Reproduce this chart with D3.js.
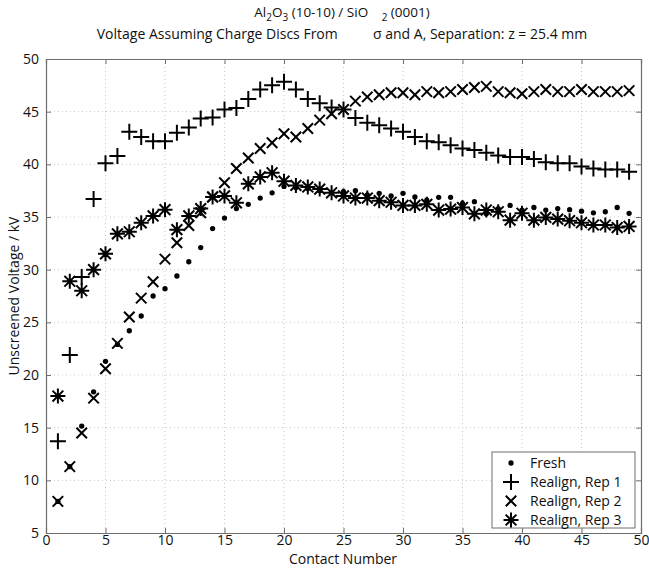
<!DOCTYPE html>
<html><head><meta charset="utf-8">
<script src="https://cdn.jsdelivr.net/npm/d3@7"></script>
<style>body{margin:0;background:#fff}svg{display:block;font-family:"Open Sans","Liberation Sans",sans-serif}</style>
</head><body><svg id="c" width="649" height="569"></svg>
<script>
const contacts = d3.range(1, 50);
const fresh = [8.0,11.3,15.15,18.4,21.3,22.9,24.2,25.6,27.5,28.2,29.4,30.75,32.1,33.9,34.9,35.8,36.2,36.8,37.3,37.9,37.8,37.7,37.5,37.3,37.4,37.5,37.1,37.25,37.0,37.25,36.9,36.6,36.87,36.87,36.3,36.45,35.3,35.8,36.1,35.66,35.9,35.66,35.8,35.7,35.55,35.4,35.5,35.9,35.35];
const rep1 = [13.7,21.9,29.3,36.7,40.1,40.8,43.1,42.6,42.2,42.2,43.0,43.5,44.35,44.45,45.2,45.35,46.2,47.1,47.5,47.85,47.1,46.2,45.8,45.4,45.2,44.4,43.95,43.7,43.4,43.1,42.6,42.2,42.1,41.8,41.5,41.35,41.1,40.85,40.7,40.7,40.5,40.2,40.1,40.1,39.8,39.6,39.5,39.5,39.3];
const rep2 = [8.0,11.3,14.5,17.8,20.6,23.0,25.5,27.3,28.85,31.0,32.55,34.2,35.4,36.9,38.25,39.6,40.6,41.5,42.05,42.9,42.6,43.4,44.2,44.8,45.2,46.0,46.4,46.6,46.8,46.8,46.6,46.9,46.8,46.9,47.1,47.3,47.4,46.9,46.8,46.7,46.9,47.1,46.9,46.9,47.1,46.9,46.9,46.9,47.0];
const rep3 = [18.0,28.9,28.0,30.0,31.5,33.4,33.6,34.45,35.1,35.7,33.8,35.1,35.8,36.9,37.0,36.35,38.15,38.8,39.2,38.4,38.0,37.85,37.65,37.3,37.0,36.8,36.8,36.55,36.4,36.1,36.1,36.2,35.66,35.75,35.9,35.3,35.66,35.5,34.7,35.35,34.7,34.96,34.8,34.65,34.46,34.24,34.24,34.0,34.1];
const seriesNames = ["Fresh","Realign, Rep 1","Realign, Rep 2","Realign, Rep 3"];
const xTicks = [0,5,10,15,20,25,30,35,40,45,50];
const yTicks = [5,10,15,20,25,30,35,40,45,50];

const svg = d3.select("#c");
const L=46, R=641, T=59, B=533;
const x = d3.scaleLinear().domain([0,50]).range([L,R]);
const y = d3.scaleLinear().domain([5,50]).range([B,T]);
const axisCol = "#6e6e6e";

// grid
const g = svg.append("g");
g.selectAll(".gx").data(xTicks.slice(1,-1)).join("line")
  .attr("x1",d=>x(d)).attr("x2",d=>x(d)).attr("y1",T).attr("y2",B)
  .attr("stroke","#c8c8c8").attr("stroke-width",1).attr("stroke-dasharray","1,3");
g.selectAll(".gy").data(yTicks.slice(1,-1)).join("line")
  .attr("y1",d=>y(d)).attr("y2",d=>y(d)).attr("x1",L).attr("x2",R)
  .attr("stroke","#c8c8c8").attr("stroke-width",1).attr("stroke-dasharray","1,3");

// axes with inward ticks
const ax = svg.append("g").attr("transform",`translate(0,${B})`)
  .call(d3.axisBottom(x).tickValues(xTicks).tickSize(-5).tickPadding(2));
const axTop = svg.append("g").attr("transform",`translate(0,${T})`)
  .call(d3.axisTop(x).tickValues(xTicks).tickSize(-5).tickFormat(""));
const ay = svg.append("g").attr("transform",`translate(${L},0)`)
  .call(d3.axisLeft(y).tickValues(yTicks).tickSize(-5).tickPadding(7));
const ayR = svg.append("g").attr("transform",`translate(${R},0)`)
  .call(d3.axisRight(y).tickValues(yTicks).tickSize(-5).tickFormat(""));
[ax,axTop,ay,ayR].forEach(a=>{
  a.select(".domain").attr("stroke",axisCol).attr("stroke-width",1.2);
  a.selectAll(".tick line").attr("stroke",axisCol);
  a.selectAll("text").attr("fill","#111").attr("font-size",14).attr("font-family","'Open Sans','Liberation Sans',sans-serif");
});
ax.selectAll("text").attr("dy","0.71em");

// symbols
const plusT = {draw(c,s){const r=Math.sqrt(s)/2;c.moveTo(-r,0);c.lineTo(r,0);c.moveTo(0,-r);c.lineTo(0,r);}};
const crossT = {draw(c,s){const r=Math.sqrt(s)/2;c.moveTo(-r,-r);c.lineTo(r,r);c.moveTo(-r,r);c.lineTo(r,-r);}};
const starT = {draw(c,s){const r=Math.sqrt(s)/2;c.moveTo(-r,0);c.lineTo(r,0);c.moveTo(0,-r);c.lineTo(0,r);
  const q=r*0.72;c.moveTo(-q,-q);c.lineTo(q,q);c.moveTo(-q,q);c.lineTo(q,-q);}};
const sym = [
  {vals:fresh, path:d3.symbol().type(d3.symbolCircle).size(22)(), fill:"#000", sw:0},
  {vals:rep1, path:d3.symbol().type(plusT).size(256)(), fill:"none", sw:2},
  {vals:rep2, path:d3.symbol().type(crossT).size(110)(), fill:"none", sw:2},
  {vals:rep3, path:d3.symbol().type(starT).size(225)(), fill:"none", sw:2}
];
const pg = svg.append("g");
sym.forEach(s=>{
  pg.append("g").selectAll("path").data(s.vals).join("path")
    .attr("transform",(d,i)=>`translate(${x(contacts[i])},${y(d)})`)
    .attr("d",s.path).attr("fill",s.fill).attr("stroke","#000").attr("stroke-width",s.sw);
});

// legend
const lg = svg.append("g");
lg.append("rect").attr("x",492).attr("y",452).attr("width",143).attr("height",76)
  .attr("fill","#fff").attr("stroke",axisCol).attr("stroke-width",1);
seriesNames.forEach((n,i)=>{
  const yy = 463 + i*19;
  lg.append("path").attr("transform",`translate(511,${yy})`).attr("d",sym[i].path)
    .attr("fill",sym[i].fill).attr("stroke","#000").attr("stroke-width",sym[i].sw);
  lg.append("text").attr("x",530).attr("y",yy).attr("dy","0.35em").attr("font-size",14).attr("fill","#111").text(n);
});

// titles
const t1 = svg.append("text").attr("x",342).attr("y",17).attr("text-anchor","middle").attr("font-size",13.5).attr("fill","#111");
t1.append("tspan").text("Al");
t1.append("tspan").attr("dy",4).attr("font-size",10).text("2");
t1.append("tspan").attr("dy",-4).text("O");
t1.append("tspan").attr("dy",4).attr("font-size",10).text("3");
t1.append("tspan").attr("dy",-4).text(" (10-10) / SiO\u2003");
t1.append("tspan").attr("dy",4).attr("font-size",10).text("2");
t1.append("tspan").attr("dy",-4).text(" (0001)");
svg.append("text").attr("x",342).attr("y",39).attr("text-anchor","middle").attr("font-size",14).attr("fill","#111")
  .attr("xml:space","preserve").text("Voltage Assuming Charge Discs From \u2003\u2003 \u03c3 and A, Separation: z = 25.4 mm");
svg.append("text").attr("x",343).attr("y",564).attr("text-anchor","middle").attr("font-size",14).attr("fill","#111").text("Contact Number");
svg.append("text").attr("transform","translate(19,296) rotate(-90)").attr("text-anchor","middle").attr("font-size",14).attr("fill","#111").text("Unscreened Voltage / kV");
</script></body></html>
